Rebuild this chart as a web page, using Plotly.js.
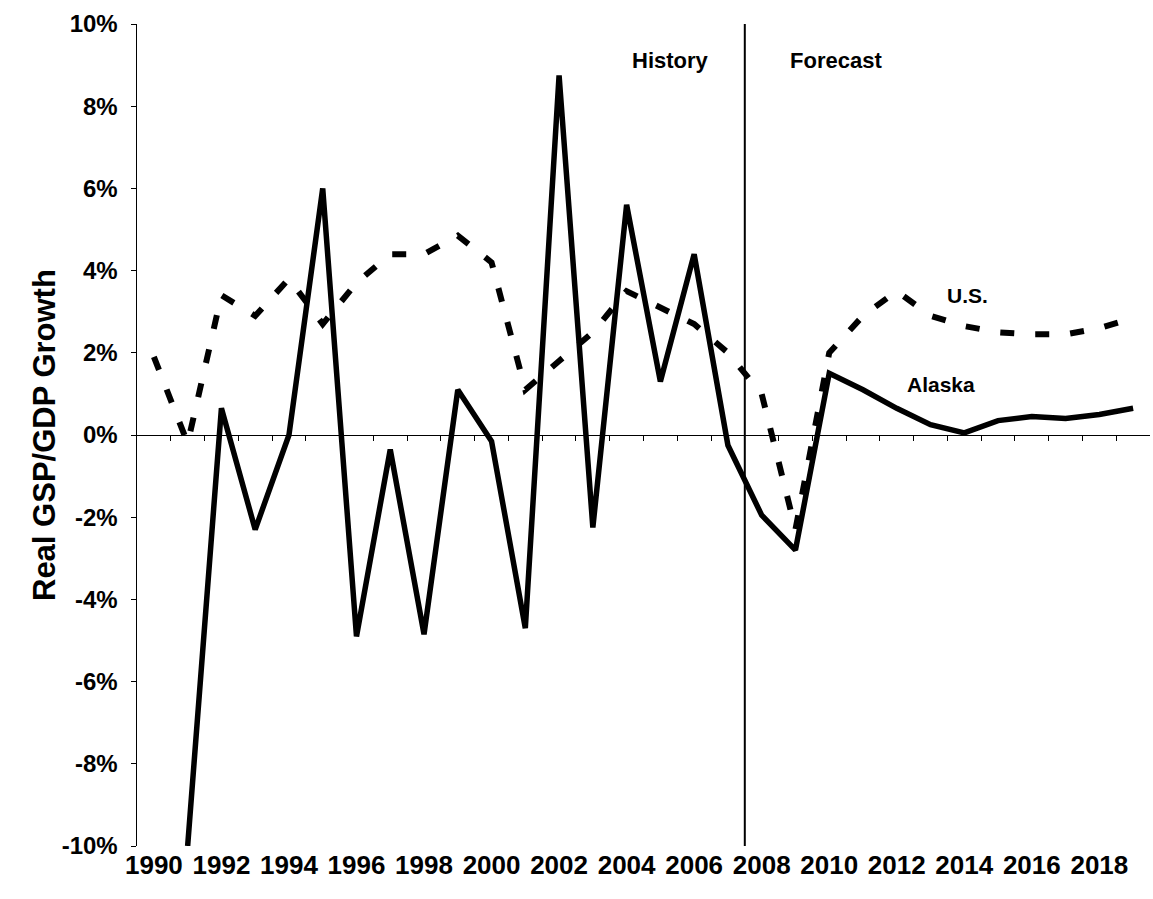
<!DOCTYPE html>
<html>
<head>
<meta charset="utf-8">
<script src="https://cdn.plot.ly/plotly-3.0.1.min.js"></script>
<style>
  html, body { margin: 0; padding: 0; background: #ffffff; }
  #chart { width: 1153px; height: 899px; }
</style>
</head>
<body>
<div id="chart"></div>
<script>
// ---- data ----
const years = [1990, 1991, 1992, 1993, 1994, 1995, 1996, 1997, 1998, 1999,
               2000, 2001, 2002, 2003, 2004, 2005, 2006, 2007, 2008, 2009,
               2010, 2011, 2012, 2013, 2014, 2015, 2016, 2017, 2018, 2019];
const alaskaGrowth = [null, -10.0, 0.65, -2.3, 0.0, 6.0, -4.9, -0.35, -4.85, 1.1,
                      -0.15, -4.7, 8.75, -2.25, 5.6, 1.3, 4.4, -0.25, -1.95, -2.8,
                      1.5, 1.1, 0.65, 0.25, 0.05, 0.35, 0.45, 0.4, 0.5, 0.65];
const usGrowth = [1.9, -0.2, 3.4, 2.9, 3.8, 2.7, 3.7, 4.4, 4.4, 4.85,
                  4.2, 1.1, 1.8, 2.5, 3.5, 3.1, 2.7, 2.0, 1.0, -2.3,
                  2.0, 2.9, 3.5, 2.9, 2.65, 2.5, 2.45, 2.45, 2.6, 2.85];
const xTickYears = [1990, 1992, 1994, 1996, 1998, 2000, 2002, 2004, 2006, 2008,
                    2010, 2012, 2014, 2016, 2018];
const xTickLabels = ['1990', '1992', '1994', '1996', '1998', '2000', '2002', '2004',
                     '2006', '2008', '2010', '2012', '2014', '2016', '2018'];
const yTickVals = [-10, -8, -6, -4, -2, 0, 2, 4, 6, 8, 10];
const yTickLabels = ['-10%', '-8%', '-6%', '-4%', '-2%', '0%', '2%', '4%', '6%', '8%', '10%'];
const seriesNames = ['Alaska', 'U.S.'];
const forecastStart = 2007.5;
const yTitle = 'Real GSP/GDP Growth';

// category boundaries for the tick marks on the 0% line
const boundaries = years.slice(0, -1).map(y => y + 0.5);

const FONT = 'Liberation Sans, Arial, sans-serif';
const xRange = [years[0] - 0.5, years[years.length - 1] + 0.5];

const traces = [
  {
    type: 'scatter', mode: 'lines', name: seriesNames[0],
    x: years, y: alaskaGrowth, xaxis: 'x', yaxis: 'y',
    line: { color: '#000000', width: 5.5 },
    connectgaps: false, hoverinfo: 'x+y+name'
  },
  {
    type: 'scatter', mode: 'lines', name: seriesNames[1],
    x: years, y: usGrowth, xaxis: 'x2', yaxis: 'y',
    line: { color: '#000000', width: 6, dash: '14px,21px' },
    hoverinfo: 'x+y+name'
  }
];

const layout = {
  width: 1153, height: 899,
  margin: { l: 137, r: 3, t: 24, b: 53, pad: 0 },
  paper_bgcolor: '#ffffff', plot_bgcolor: '#ffffff',
  showlegend: false,
  font: { family: FONT, color: '#000000' },
  xaxis: {
    range: xRange, tickmode: 'array', tickvals: xTickYears, ticktext: xTickLabels,
    showline: false, ticks: '', showgrid: false, zeroline: false,
    tickfont: { family: FONT, size: 26, weight: 'bold', color: '#000000' },
    ticklabelstandoff: 1
  },
  xaxis2: {
    overlaying: 'x', anchor: 'free', position: 0.5, side: 'bottom',
    range: xRange, tickmode: 'array', tickvals: boundaries,
    ticks: 'outside', ticklen: 5, tickwidth: 1, tickcolor: '#000000',
    showticklabels: false, showline: true, linecolor: '#000000', linewidth: 1,
    showgrid: false, zeroline: false
  },
  yaxis: {
    range: [-10, 10], tickmode: 'array', tickvals: yTickVals, ticktext: yTickLabels,
    ticks: 'outside', ticklen: 5, tickwidth: 1, tickcolor: '#000000',
    showline: true, linecolor: '#000000', linewidth: 1.5,
    showgrid: false, zeroline: false,
    tickfont: { family: FONT, size: 24, weight: 'bold', color: '#000000' },
    ticklabelstandoff: 8
  },
  shapes: [
    { type: 'line', xref: 'x', yref: 'paper', x0: forecastStart, x1: forecastStart,
      y0: 0, y1: 1, line: { color: '#000000', width: 2 } }
  ],
  annotations: [
    { text: yTitle, xref: 'paper', yref: 'paper', x: -0.0918, y: 0.5,
      xanchor: 'center', yanchor: 'middle', textangle: -90, showarrow: false,
      font: { family: FONT, size: 31, weight: 'bold', color: '#000000' } },
    { text: 'History', xref: 'x', yref: 'y', x: 2005.29, y: 9.1,
      xanchor: 'center', yanchor: 'middle', showarrow: false,
      font: { family: FONT, size: 22, weight: 'bold', color: '#000000' } },
    { text: 'Forecast', xref: 'x', yref: 'y', x: 2010.2, y: 9.1,
      xanchor: 'center', yanchor: 'middle', showarrow: false,
      font: { family: FONT, size: 22, weight: 'bold', color: '#000000' } },
    { text: seriesNames[1], xref: 'x', yref: 'y', x: 2014.1, y: 3.4,
      xanchor: 'center', yanchor: 'middle', showarrow: false,
      font: { family: FONT, size: 21, weight: 'bold', color: '#000000' } },
    { text: seriesNames[0], xref: 'x', yref: 'y', x: 2013.3, y: 1.24,
      xanchor: 'center', yanchor: 'middle', showarrow: false,
      font: { family: FONT, size: 21, weight: 'bold', color: '#000000' } }
  ]
};

Plotly.newPlot('chart', traces, layout, { displayModeBar: false, staticPlot: true });
</script>
</body>
</html>
